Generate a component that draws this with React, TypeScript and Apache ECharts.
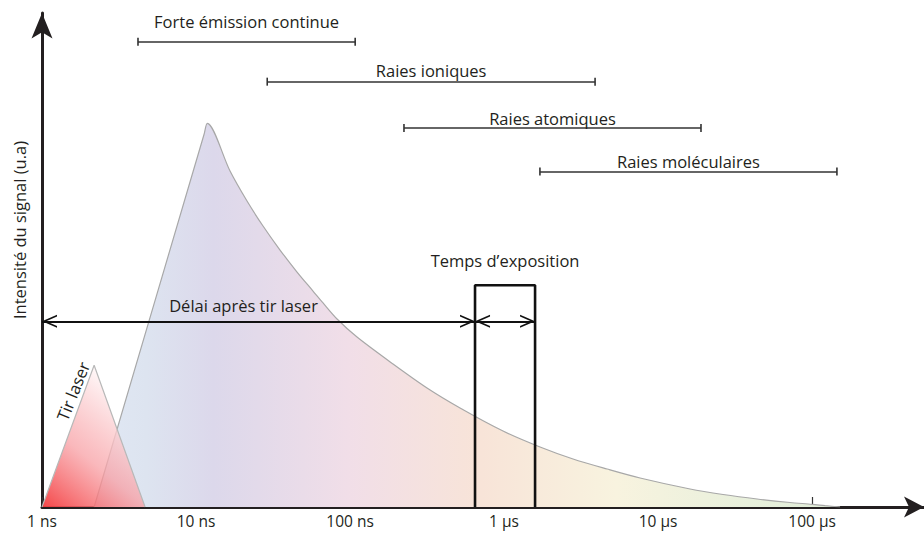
import React, { useEffect, useRef } from 'react';
import * as echarts from 'echarts';

// ---- data (time in ns, intensity in arbitrary units 0..100) ----
const tickValues = [1, 10, 100, 1000, 10000, 100000];
const tickLabels = ['1 ns', '10 ns', '100 ns', '1 µs', '10 µs', '100 µs'];

const laserTime = [1, 2.18, 4.67];
const laserIntensity = [0, 28.7, 0];

const plasmaTime = [2.18, 11.27, 11.84, 16.63, 21.44, 27.23, 35.12, 45.29, 57.51, 66.8, 82.35, 111, 190.2, 316.2, 518, 985, 1713, 2806, 4666, 7641, 16140, 26430, 43940, 71970, 100000, 121400, 152000];
const plasmaIntensity = [0, 75.4, 77.67, 68.02, 61.94, 56.88, 52.02, 47.57, 43.72, 41.3, 38.06, 34.41, 28.95, 24.09, 20.04, 15.38, 12.15, 9.72, 7.69, 5.87, 3.64, 2.53, 1.62, 0.91, 0.55, 0.28, 0];

const rangeNames = ['Forte émission continue', 'Raies ioniques', 'Raies atomiques', 'Raies moléculaires'];
const rangeStart = [4.2, 29, 224, 1710];
const rangeEnd = [108, 3900, 19000, 145000];
const rangeLevel = [94.2, 86.1, 76.7, 67.9];

const laserShot = 1;
const exposureStart = 648;
const exposureEnd = 1590;
const exposureTop = 44.9;
const delayLevel = 37.6;

const exposureLabel = 'Temps d’exposition';
const delayLabel = 'Délai après tir laser';
const laserLabel = 'Tir laser';
const yLabel = 'Intensité du signal (u.a)';

// ---- styling ----
const font = "'Open Sans', 'Noto Sans', sans-serif";
const ink = '#231f20';
const chevron = 'path://M0,-15M0,0L6.5,15L4.7,15L0,4.2L-4.7,15L-6.5,15Z';
const arrowEnd = { symbol: chevron, symbolSize: [13, 30] };
const tickEnd = { symbol: 'rect', symbolSize: [8, 1.6] };
const rangeLabelGap = [12, 3, 1.5, 2];

function buildOption() {
  const zip = (a: number[], b: number[]) => a.map((v, i) => [v, b[i]]);
  const expMid = Math.sqrt(exposureStart * exposureEnd);

  const rangeLines = rangeNames.map((name, i) => [
    {
      coord: [rangeStart[i], rangeLevel[i]],
      ...tickEnd,
      lineStyle: { color: '#333', width: 1.5, type: 'solid' },
      label: {
        show: true,
        position: 'middle',
        formatter: name,
        distance: rangeLabelGap[i],
        fontSize: 16.5,
        fontFamily: font,
        color: ink,
      },
    },
    { coord: [rangeEnd[i], rangeLevel[i]], ...tickEnd },
  ]);

  const arrowLines = [
    [
      {
        coord: [laserShot, delayLevel],
        ...arrowEnd,
        lineStyle: { color: '#111', width: 2, type: 'solid' },
        label: {
          show: true,
          position: 'middle',
          formatter: delayLabel,
          distance: 7,
          padding: [0, 30, 0, 0],
          fontSize: 16.5,
          fontFamily: font,
          color: ink,
        },
      },
      { coord: [exposureStart, delayLevel], ...arrowEnd },
    ],
    [
      {
        coord: [exposureStart, delayLevel],
        ...arrowEnd,
        lineStyle: { color: '#111', width: 2, type: 'solid' },
        label: { show: false },
      },
      { coord: [exposureEnd, delayLevel], ...arrowEnd },
    ],
  ];

  return {
    animation: false,
    backgroundColor: '#ffffff',
    grid: { left: 42, right: 0, top: 13, bottom: 26, containLabel: false, outerBoundsMode: 'none' },
    xAxis: {
      type: 'log',
      logBase: 10,
      min: 1,
      max: 533000,
      axisLine: {
        show: true,
        onZero: false,
        lineStyle: { color: ink, width: 3 },
        symbol: ['none', 'arrow'],
        symbolSize: [15.75, 20],
      },
      axisTick: {
        show: true,
        inside: true,
        length: 10,
        lineStyle: { color: '#333', width: 1.2 },
        customValues: tickValues,
      },
      axisLabel: {
        show: true,
        margin: 6,
        fontSize: 15.5,
        fontFamily: font,
        color: ink,
        customValues: tickValues,
        formatter: (v: number) => {
          const idx = Math.round(Math.log10(v));
          return tickLabels[idx] ?? '';
        },
      },
      splitLine: { show: false },
      minorTick: { show: false },
    },
    yAxis: {
      type: 'value',
      min: 0,
      max: 100,
      axisLine: {
        show: true,
        onZero: false,
        lineStyle: { color: ink, width: 3 },
        symbol: ['none', 'arrow'],
        symbolSize: [15.75, 25.6],
      },
      axisTick: { show: false },
      axisLabel: { show: false },
      splitLine: { show: false },
    },
    graphic: [
      {
        type: 'text',
        x: 19,
        y: 230,
        rotation: Math.PI / 2,
        style: {
          text: yLabel,
          fontSize: 16.5,
          fontFamily: font,
          fill: ink,
          align: 'center',
          verticalAlign: 'middle',
        },
      },
      {
        type: 'text',
        x: 73,
        y: 391,
        rotation: (68 * Math.PI) / 180,
        style: {
          text: laserLabel,
          fontSize: 16.5,
          fontFamily: font,
          fill: ink,
          align: 'center',
          verticalAlign: 'middle',
        },
      },
    ],
    series: [
      {
        name: 'plasma',
        type: 'line',
        z: 2,
        data: zip(plasmaTime, plasmaIntensity),
        symbol: 'none',
        smooth: 0.3,
        silent: true,
        lineStyle: { color: '#a8a8a8', width: 1.2 },
        areaStyle: {
          opacity: 1,
          color: new echarts.graphic.LinearGradient(0, 0, 1, 0, [
            { offset: 0, color: '#e0e8f4' },
            { offset: 0.07, color: '#dde4f0' },
            { offset: 0.16, color: '#dcd8eb' },
            { offset: 0.34, color: '#f1dee8' },
            { offset: 0.52, color: '#f8e4d8' },
            { offset: 0.7, color: '#f8f3df' },
            { offset: 0.88, color: '#e8f0dc' },
            { offset: 1, color: '#e0ecd8' },
          ]),
        },
      },
      {
        name: 'laser',
        type: 'line',
        z: 3,
        data: zip(laserTime, laserIntensity),
        symbol: 'none',
        silent: true,
        lineStyle: { color: '#b8b8b8', width: 1.2 },
        areaStyle: {
          opacity: 1,
          color: new echarts.graphic.LinearGradient(0, 1, 0.6, 0, [
            { offset: 0, color: 'rgba(244,60,62,0.95)' },
            { offset: 0.45, color: 'rgba(248,160,165,0.75)' },
            { offset: 1, color: 'rgba(255,255,255,0.85)' },
          ]),
        },
      },
      {
        name: 'exposure',
        type: 'line',
        z: 4,
        symbol: 'none',
        showSymbol: true,
        silent: true,
        lineStyle: { color: '#111', width: 2.6 },
        data: [
          [exposureStart, 0],
          [exposureStart, exposureTop],
          {
            value: [expMid, exposureTop],
            symbol: 'circle',
            symbolSize: 0.01,
            label: {
              show: true,
              position: 'top',
              distance: 16,
              formatter: exposureLabel,
              fontSize: 16.5,
              fontFamily: font,
              color: ink,
            },
          },
          [exposureEnd, exposureTop],
          [exposureEnd, 0],
        ],
        markLine: {
          silent: true,
          symbol: ['none', 'none'],
          label: { show: false },
          lineStyle: { type: 'solid' },
          emphasis: { disabled: true },
          animation: false,
          data: [...rangeLines, ...arrowLines],
        },
      },
    ],
  };
}

export default function App() {
  const ref = useRef<HTMLDivElement>(null);
  useEffect(() => {
    if (!ref.current) return;
    const chart = echarts.init(ref.current, null, { renderer: 'svg' });
    chart.setOption(buildOption() as any);
    return () => chart.dispose();
  }, []);
  return (
    <div
      ref={ref}
      style={{ position: 'fixed', left: 0, top: 0, width: 924, height: 533, background: '#fff' }}
    />
  );
}
